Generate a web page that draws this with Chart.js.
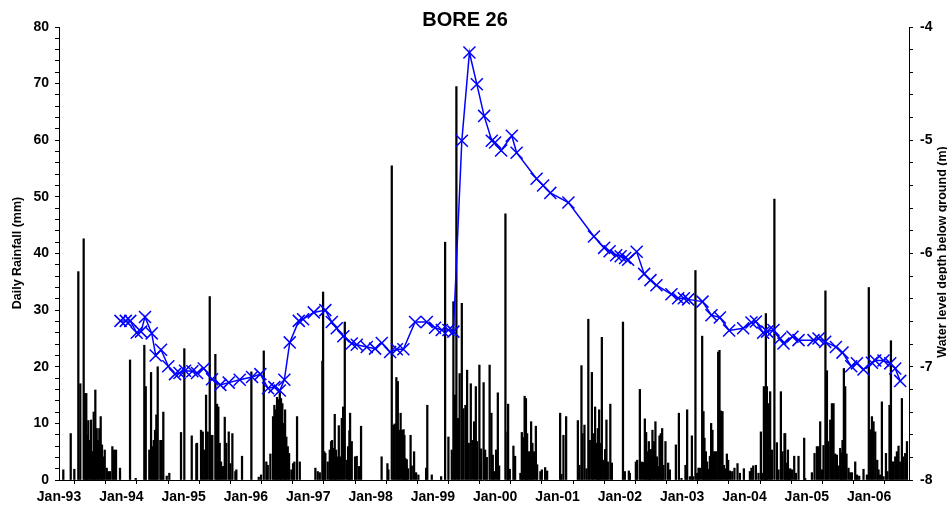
<!DOCTYPE html>
<html>
<head>
<meta charset="utf-8">
<title>BORE 26</title>
<script src="https://cdn.jsdelivr.net/npm/chart.js@4.4.1/dist/chart.umd.min.js"></script>
<style>
  html, body { margin: 0; padding: 0; background: #fff; }
  #wrap { width: 947px; height: 506px; position: relative; }
</style>
</head>
<body>
<div id="wrap"><canvas id="boreChart"></canvas></div>
<script>
// chart texts
const chartTitle = 'BORE 26';
const rainTitle = 'Daily Rainfall (mm)';
const levelTitle = 'Water level depth below ground (m)';

// x axis: decimal years, labelled each January
const yearTicks = [1993, 1994, 1995, 1996, 1997, 1998, 1999, 2000, 2001, 2002, 2003, 2004, 2005, 2006];
const yearLabels = ['Jan-93', 'Jan-94', 'Jan-95', 'Jan-96', 'Jan-97', 'Jan-98', 'Jan-99',
                    'Jan-00', 'Jan-01', 'Jan-02', 'Jan-03', 'Jan-04', 'Jan-05', 'Jan-06'];

// daily rainfall, date as decimal year
const rainDate = [
  // 1993
  1993.069, 1993.188, 1993.246, 1993.310, 1993.342, 1993.396, 1993.417, 1993.438, 1993.454, 1993.470,
  1993.493, 1993.514, 1993.534, 1993.557, 1993.567, 1993.583, 1993.605, 1993.626, 1993.647, 1993.669,
  1993.690, 1993.711, 1993.734, 1993.766, 1993.791, 1993.819, 1993.856, 1993.883, 1993.915, 1993.979,
  // 1994
  1994.140, 1994.231, 1994.369, 1994.392, 1994.449, 1994.477, 1994.498, 1994.520, 1994.541, 1994.562,
  1994.584, 1994.626, 1994.648, 1994.674, 1994.729, 1994.770, 1994.958,
  // 1995
  1995.011, 1995.130, 1995.204, 1995.215, 1995.279, 1995.307, 1995.332, 1995.360, 1995.387, 1995.419,
  1995.440, 1995.461, 1995.509, 1995.536, 1995.557, 1995.579, 1995.600, 1995.632, 1995.660, 1995.685,
  1995.724, 1995.750, 1995.782, 1995.830, 1995.846, 1995.937,
  // 1996
  1996.087, 1996.205, 1996.242, 1996.286, 1996.327, 1996.350, 1996.392, 1996.435, 1996.456, 1996.478,
  1996.499, 1996.520, 1996.543, 1996.563, 1996.584, 1996.607, 1996.628, 1996.648, 1996.671, 1996.692,
  1996.729, 1996.756, 1996.777, 1996.820, 1996.864,
  // 1997
  1997.114, 1997.152, 1997.185, 1997.226, 1997.238, 1997.258, 1997.274, 1997.313, 1997.345, 1997.366,
  1997.382, 1997.409, 1997.425, 1997.446, 1997.467, 1997.490, 1997.510, 1997.538, 1997.559, 1997.586,
  1997.618, 1997.639, 1997.660, 1997.671, 1997.698, 1997.751, 1997.778, 1997.815, 1997.847,
  // 1998
  1998.177, 1998.270, 1998.286, 1998.340, 1998.366, 1998.388, 1998.414, 1998.437, 1998.457, 1998.482,
  1998.506, 1998.530, 1998.543, 1998.559, 1998.581, 1998.602, 1998.642, 1998.661, 1998.698, 1998.730,
  1998.767, 1998.891, 1998.910, 1998.982,
  // 1999
  1999.132, 1999.196, 1999.249, 1999.303, 1999.329, 1999.356, 1999.377, 1999.404, 1999.429, 1999.464,
  1999.490, 1999.522, 1999.549, 1999.576, 1999.608, 1999.634, 1999.661, 1999.689, 1999.709, 1999.746,
  1999.774, 1999.814, 1999.838, 1999.865, 1999.910, 1999.939, 1999.961, 1999.982,
  // 2000
  2000.014, 2000.042, 2000.063, 2000.164, 2000.196, 2000.207, 2000.234, 2000.292, 2000.319, 2000.404,
  2000.427, 2000.448, 2000.472, 2000.493, 2000.512, 2000.533, 2000.555, 2000.576, 2000.597, 2000.620,
  2000.652, 2000.673, 2000.725, 2000.748, 2000.801, 2000.833,
  // 2001
  2001.042, 2001.063, 2001.095, 2001.138, 2001.326, 2001.352, 2001.384, 2001.400, 2001.432, 2001.464,
  2001.494, 2001.518, 2001.551, 2001.571, 2001.603, 2001.631, 2001.647, 2001.668, 2001.689, 2001.711,
  2001.737, 2001.764, 2001.785, 2001.807, 2001.847, 2001.872,
  // 2002
  2002.050, 2002.080, 2002.144, 2002.161, 2002.257, 2002.278, 2002.321, 2002.347, 2002.374, 2002.401,
  2002.422, 2002.443, 2002.465, 2002.486, 2002.502, 2002.523, 2002.546, 2002.571, 2002.594, 2002.615,
  2002.636, 2002.658, 2002.679, 2002.700, 2002.732, 2002.775, 2002.803, 2002.899, 2002.947, 2002.989,
  // 2003
  2003.053, 2003.080, 2003.124, 2003.156, 2003.177, 2003.213, 2003.241, 2003.262, 2003.284, 2003.321,
  2003.342, 2003.358, 2003.380, 2003.401, 2003.422, 2003.445, 2003.465, 2003.486, 2003.509, 2003.530,
  2003.551, 2003.578, 2003.599, 2003.621, 2003.647, 2003.669, 2003.695, 2003.717, 2003.738, 2003.766,
  2003.803, 2003.839, 2003.888, 2003.926, 2003.990,
  // 2004
  2004.087, 2004.112, 2004.140, 2004.183, 2004.225, 2004.263, 2004.284, 2004.311, 2004.327, 2004.343,
  2004.360, 2004.385, 2004.412, 2004.440, 2004.480, 2004.520, 2004.546, 2004.584, 2004.610, 2004.642,
  2004.653, 2004.681, 2004.697, 2004.717, 2004.734, 2004.761, 2004.798, 2004.825, 2004.867, 2004.958,
  2004.974,
  // 2005
  2005.082, 2005.124, 2005.162, 2005.188, 2005.215, 2005.242, 2005.268, 2005.299, 2005.323, 2005.343,
  2005.376, 2005.403, 2005.429, 2005.456, 2005.483, 2005.509, 2005.536, 2005.552, 2005.573, 2005.595,
  2005.616, 2005.637, 2005.669, 2005.697, 2005.724, 2005.777, 2005.804, 2005.841, 2005.910, 2005.965,
  2005.995,
  // 2006
  2006.022, 2006.045, 2006.071, 2006.098, 2006.130, 2006.151, 2006.178, 2006.205, 2006.231, 2006.270,
  2006.295, 2006.327, 2006.350, 2006.371, 2006.392, 2006.419, 2006.446, 2006.472, 2006.499, 2006.526,
  2006.547, 2006.579, 2006.607
];
const rainMm = [
  // 1993
  1.8, 8.2, 1.9, 36.8, 17, 42.6, 15.3, 15.3, 7.9, 10.5,
  7, 10.6, 5, 12, 6.5, 15.9, 9.1, 7, 9.1, 11.2,
  6.2, 4.1, 5.3, 2.1, 1.5, 1.5, 5.9, 5.3, 5.3, 2.1,
  // 1994
  21.2, 0.3, 23.8, 16.5, 5.3, 19, 5.9, 7, 8.8, 11.5,
  20, 7, 7, 12, 0.7, 1.2, 8.4,
  // 1995
  23.2, 7.8, 6.4, 6.5, 8.8, 8.5, 5.3, 15, 8.5, 32.4,
  7.9, 7.9, 22.2, 13.4, 12.9, 6.5, 3.2, 2.4, 11.1, 6.5,
  8.5, 2.9, 8.2, 1.5, 1.8, 4.2,
  // 1996
  19.1, 0.5, 0.9, 22.8, 3.2, 2.6, 4.6, 11.2, 13.2, 12.4,
  14.6, 14.2, 15.9, 14.4, 13.5, 10, 12.4, 7.6, 5.9, 4.7,
  1.8, 2.9, 3.2, 11.2, 3.2,
  // 1997
  2.1, 1.5, 1.3, 21, 33.2, 5, 4.7, 3.2, 5.3, 6.8,
  7, 5.6, 11.6, 5.3, 4.1, 9.6, 4.1, 10.9, 12.9, 27.9,
  3.5, 5.9, 8.7, 11.8, 6.8, 4.1, 4.2, 2.4, 9.5,
  // 1998
  4.1, 2.9, 1.8, 55.5, 9.7, 9.9, 18.1, 17.4, 8.8, 11.8,
  8.8, 8.9, 7.9, 3.8, 3.6, 2, 7.9, 2.5, 5, 1.3,
  0.9, 2.1, 13.2, 0.9,
  // 1999
  0.6, 42, 7.6, 5.3, 31.5, 15, 69.5, 10.9, 18.8, 31.2,
  12.6, 13.2, 19.4, 6.5, 17, 7, 10.3, 16.5, 6.8, 20.3,
  5.5, 17.2, 5.3, 4, 20.3, 11.8, 4.4, 1.5,
  // 2000
  5.3, 15.4, 2.5, 47, 8.5, 13.4, 1.9, 6, 4.2, 1.2,
  8.4, 7.5, 14.8, 14.4, 8.2, 5, 5, 10.3, 6.5, 5,
  9.5, 2.7, 1.5, 1.8, 2.2, 1.6,
  // 2001
  11.8, 1, 7.9, 11.2, 10.5, 2.6, 20.2, 8.2, 9.7, 2,
  28.4, 7, 19, 8.2, 12.9, 6.5, 9.1, 12.4, 6.5, 25.2,
  3.5, 5.4, 10.6, 3.2, 13.4, 3,
  // 2002
  27.9, 1.5, 1.6, 1.2, 3.2, 3.5, 16, 3.2, 3.1, 10.8,
  8.4, 5, 6.8, 5.3, 5.4, 8.8, 6.8, 10.3, 4.1, 2.4,
  7.8, 8.2, 9.1, 2.6, 6.8, 3, 1.8, 6.2, 11.8, 0.3,
  // 2003
  2.6, 12.4, 0.6, 7.8, 0.6, 37, 1.2, 2.1, 2.1, 25.4,
  12.1, 7.4, 5, 3.2, 1.9, 4.2, 10, 8.8, 5, 5,
  5, 22.6, 22.9, 12.2, 12.1, 2.6, 2, 4.6, 3.5, 1.6,
  1.5, 2.1, 2.9, 1.2, 2,
  // 2004
  1.5, 2.1, 2.5, 2.6, 1.2, 8.5, 1.2, 16.5, 4.7, 29.4,
  16.5, 13.5, 15.6, 5.3, 49.6, 6.6, 1.8, 15.6, 5, 8.2,
  8.2, 3, 5.3, 1.8, 2, 1.8, 4.2, 1.2, 4.2, 7.4,
  0.3,
  // 2005
  1.3, 4.7, 5.9, 5.9, 10.3, 1.8, 6.1, 33.4, 19.3, 6.8,
  10.6, 13.5, 13.5, 4.6, 4.4, 2.5, 5.6, 4.8, 7, 19.7,
  16.5, 4.6, 2.1, 1.3, 1.3, 3.2, 0.9, 0.7, 1.9, 0.9,
  34,
  // 2006
  8.9, 11.2, 10.3, 8.5, 3.5, 1.8, 0.9, 13.8, 0.6, 4.7,
  1.5, 13.2, 24.6, 3.2, 3.2, 4.1, 5, 6, 3.2, 14.4,
  4.1, 4.7, 6.8
];

// water level readings (m below ground, negative), date as decimal year
const levelDate = [
  1993.987, 1994.072, 1994.144, 1994.247, 1994.316, 1994.380, 1994.488, 1994.552, 1994.637, 1994.754,
  1994.862, 1994.934, 1995.022, 1995.140, 1995.215, 1995.323, 1995.456, 1995.589, 1995.724, 1995.900,
  1996.098, 1996.231, 1996.355, 1996.456, 1996.543, 1996.616, 1996.703, 1996.848, 1996.917, 1997.088,
  1997.274, 1997.377, 1997.457, 1997.563, 1997.698, 1997.778, 1997.939, 1998.072, 1998.180, 1998.313,
  1998.421, 1998.526, 1998.714, 1998.902, 1999.035, 1999.143, 1999.249, 1999.329, 1999.464, 1999.586,
  1999.705, 1999.822, 1999.945, 1999.998, 2000.095, 2000.266, 2000.343, 2000.664, 2000.769, 2000.884,
  2001.175, 2001.584, 2001.748, 2001.836, 2001.941, 2002.013, 2002.085, 2002.133, 2002.270, 2002.390,
  2002.491, 2002.587, 2002.828, 2002.936, 2003.027, 2003.096, 2003.326, 2003.470, 2003.605, 2003.754,
  2003.979, 2004.112, 2004.183, 2004.300, 2004.364, 2004.465, 2004.573, 2004.626, 2004.770, 2004.867,
  2005.108, 2005.188, 2005.295, 2005.467, 2005.573, 2005.713, 2005.804, 2005.910, 2006.045, 2006.098,
  2006.231, 2006.339, 2006.419, 2006.499
];
const levelM = [
  -6.595, -6.595, -6.595, -6.70, -6.69, -6.56, -6.705, -6.90, -6.85, -6.995,
  -7.065, -7.055, -7.035, -7.04, -7.055, -7.015, -7.11, -7.16, -7.14, -7.115,
  -7.09, -7.065, -7.19, -7.18, -7.21, -7.115, -6.785, -6.595, -6.58, -6.52,
  -6.50, -6.605, -6.66, -6.73, -6.795, -6.805, -6.825, -6.84, -6.79, -6.87,
  -6.845, -6.845, -6.605, -6.605, -6.655, -6.675, -6.675, -6.69, -5.005, -4.225,
  -4.505, -4.785, -5.005, -5.02, -5.09, -4.96, -5.11, -5.34, -5.40, -5.465,
  -5.55, -5.85, -5.95, -5.98, -6.015, -6.025, -6.04, -6.055, -5.985, -6.18,
  -6.235, -6.28, -6.36, -6.395, -6.395, -6.405, -6.425, -6.545, -6.565, -6.68,
  -6.66, -6.61, -6.60, -6.70, -6.69, -6.675, -6.75, -6.795, -6.735, -6.765,
  -6.765, -6.75, -6.78, -6.825, -6.875, -6.995, -6.97, -7.025, -6.965, -6.945,
  -6.945, -6.97, -7.015, -7.125
];

const FONT = '"Liberation Sans", Arial, Helvetica, sans-serif';
Chart.defaults.font.family = FONT;
Chart.defaults.color = '#000';

// minor tick positions
function stepTicks(from, to, step) {
    const out = [];
    const n = Math.round((to - from) / step);
    for (let i = 0; i <= n; i++) {
        out.push({ value: Math.round((from + i * step) * 1000) / 1000 });
    }
    return out;
}

const axisGrid = {
    display: true,
    drawOnChartArea: false,
    drawTicks: true,
    tickLength: 4,
    color: '#000',
    lineWidth: 1
};
const axisBorder = { display: true, color: '#000', width: 1 };
const tickFont = { family: FONT, size: 14, weight: 'bold' };

// titles drawn by hand so they sit where the original has them
const titlesPlugin = {
    id: 'boreTitles',
    afterDraw(chart) {
        const ctx = chart.ctx;
        ctx.save();
        ctx.fillStyle = '#000';
        ctx.textAlign = 'center';

        ctx.font = 'bold 20px ' + FONT;
        ctx.textBaseline = 'alphabetic';
        ctx.fillText(chartTitle, 465, 26);

        ctx.font = 'bold 12.5px ' + FONT;
        ctx.textBaseline = 'middle';
        ctx.save();
        ctx.translate(18, 253);
        ctx.rotate(-Math.PI / 2);
        ctx.fillText(rainTitle, 0, 0);
        ctx.restore();

        ctx.save();
        ctx.translate(943, 252);
        ctx.rotate(-Math.PI / 2);
        ctx.fillText(levelTitle, 0, 0);
        ctx.restore();

        ctx.restore();
    }
};

const ctx = document.getElementById('boreChart').getContext('2d');

new Chart(ctx, {
    type: 'bar',
    data: {
        datasets: [
            {
                type: 'line',
                label: 'Water level',
                data: levelDate.map((d, i) => ({ x: d, y: levelM[i] })),
                yAxisID: 'y1',
                borderColor: '#0000ff',
                borderWidth: 1.5,
                tension: 0,
                pointStyle: 'crossRot',
                pointRadius: 8.5,
                pointBorderWidth: 1.5,
                pointBorderColor: '#0000ff',
                pointBackgroundColor: '#0000ff',
                order: 0
            },
            {
                type: 'bar',
                label: 'Daily rainfall',
                data: rainDate.map((d, i) => ({ x: d, y: rainMm[i] })),
                yAxisID: 'y',
                backgroundColor: '#000',
                borderWidth: 0,
                barThickness: 1.6,
                order: 1
            }
        ]
    },
    options: {
        responsive: true,
        maintainAspectRatio: false,
        devicePixelRatio: 1,
        animation: false,
        layout: { padding: { top: 27, left: 0, right: 0, bottom: 0 } },
        plugins: {
            legend: { display: false },
            tooltip: { enabled: false },
            title: { display: false }
        },
        scales: {
            x: {
                type: 'linear',
                min: 1993,
                max: 2006.64,
                offset: false,
                grid: axisGrid,
                border: axisBorder,
                afterBuildTicks: s => { s.ticks = stepTicks(1993, 2006.5, 0.5); },
                afterFit: s => { s.height = 26; },
                ticks: {
                    autoSkip: false,
                    maxRotation: 0,
                    minRotation: 0,
                    padding: 5,
                    font: tickFont,
                    color: '#000',
                    callback: v => {
                        const i = yearTicks.indexOf(v);
                        return i >= 0 ? yearLabels[i] : '';
                    }
                }
            },
            y: {
                position: 'left',
                min: 0,
                max: 80,
                grid: axisGrid,
                border: axisBorder,
                afterBuildTicks: s => { s.ticks = stepTicks(0, 80, 2); },
                afterFit: s => { s.width = 59; },
                ticks: {
                    autoSkip: false,
                    padding: 6,
                    font: tickFont,
                    color: '#000',
                    callback: v => (v % 10 === 0 ? String(v) : '')
                }
            },
            y1: {
                position: 'right',
                min: -8,
                max: -4,
                grid: axisGrid,
                border: axisBorder,
                afterBuildTicks: s => { s.ticks = stepTicks(-8, -4, 0.2); },
                afterFit: s => { s.width = 38; },
                ticks: {
                    autoSkip: false,
                    padding: 7,
                    font: tickFont,
                    color: '#000',
                    callback: v => (Number.isInteger(v) ? String(v) : '')
                }
            }
        }
    },
    plugins: [titlesPlugin]
});
</script>
</body>
</html>
